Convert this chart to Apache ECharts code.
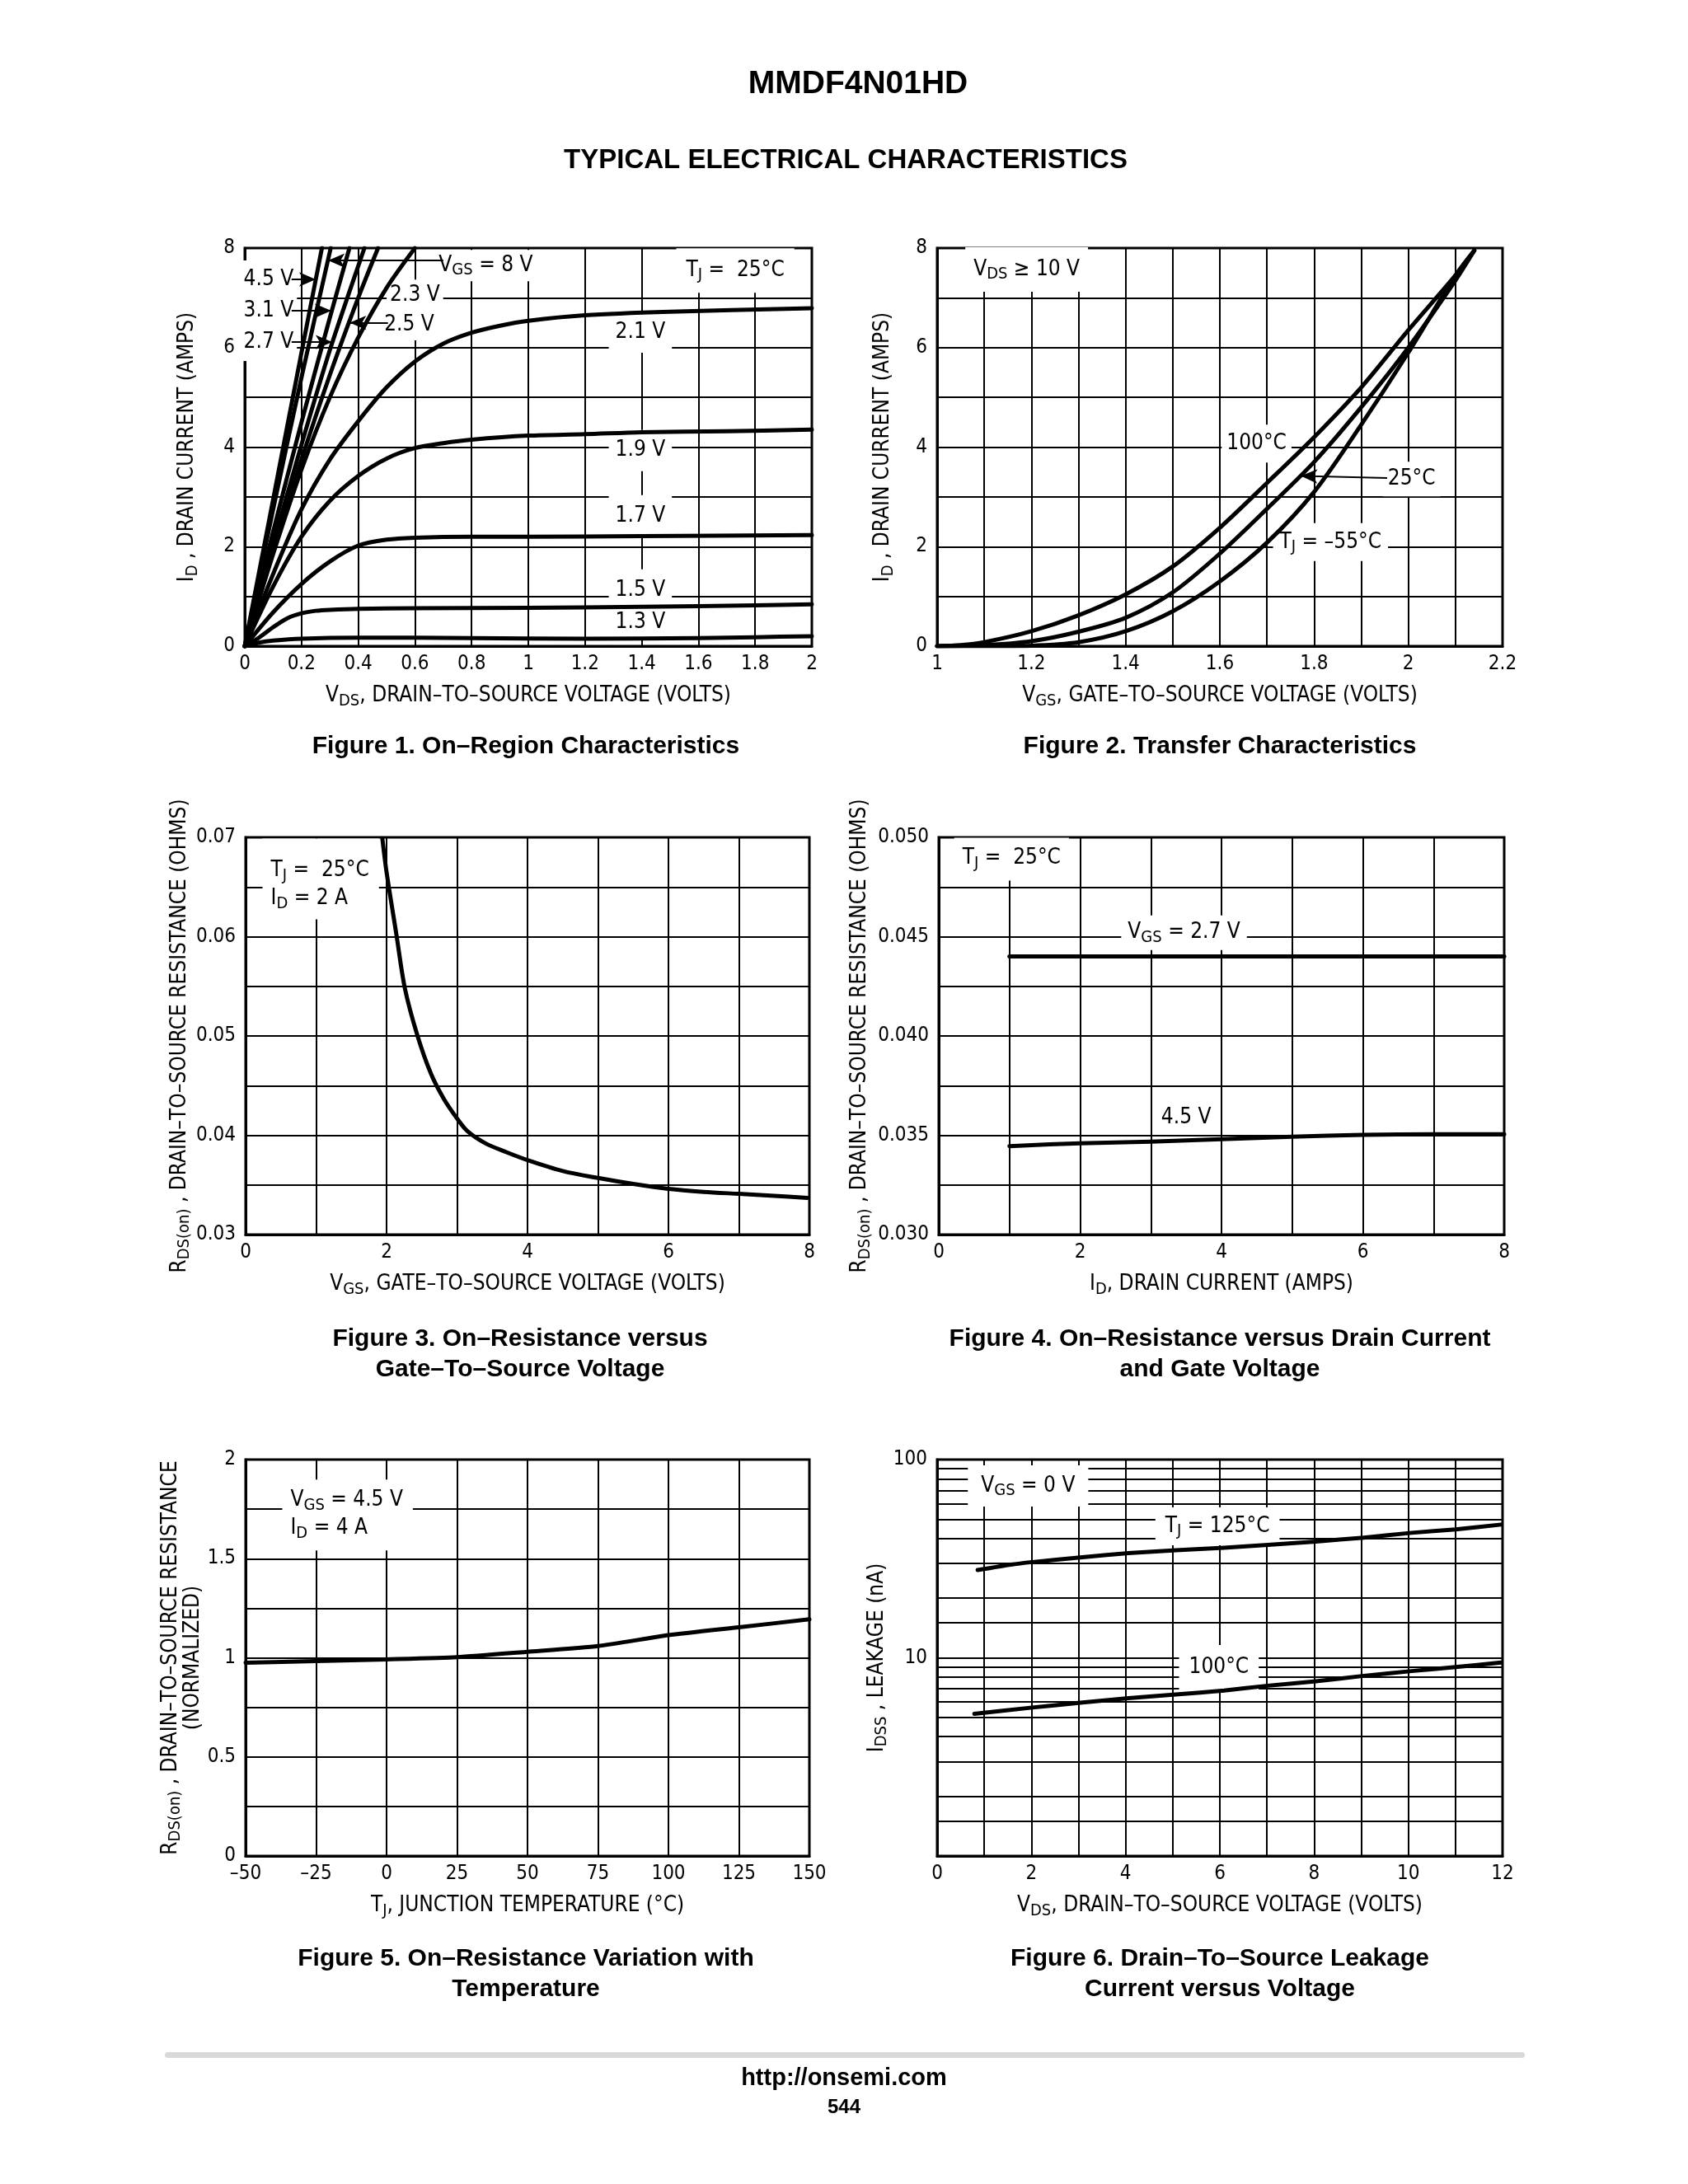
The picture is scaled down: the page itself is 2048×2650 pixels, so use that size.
<!DOCTYPE html>
<html><head><meta charset="utf-8">
<script src="https://cdn.jsdelivr.net/npm/echarts@6/dist/echarts.min.js"></script>
<style>html,body{margin:0;padding:0;background:#fff}#c{width:2048px;height:2650px}</style>
</head><body><div id="c"></div>
<script>
// ---------------- DATA ----------------
// Figure 1: On-region characteristics, [VDS (V), ID (A)]
const id_vgs45 = [[0,0],[0.1,2.95],[0.2,5.9],[0.272,8.0]];
const id_vgs8  = [[0,0],[0.1,2.75],[0.2,5.4],[0.303,8.0]];
const id_vgs31 = [[0,0],[0.1,2.3],[0.2,4.5],[0.3,6.6],[0.369,8.0]];
const id_vgs27 = [[0,0],[0.1,2.05],[0.2,4.05],[0.3,5.95],[0.422,8.0]];
const id_vgs25 = [[0,0],[0.1,1.9],[0.2,3.75],[0.3,5.45],[0.4,7.0],[0.47,8.0]];
const id_vgs23 = [[0,0],[0.1,1.85],[0.2,3.55],[0.3,5.0],[0.4,6.2],[0.5,7.2],[0.6,8.0]];
const id_vgs21 = [[0,0],[0.1,1.45],[0.2,2.75],[0.3,3.75],[0.4,4.52],[0.5,5.2],[0.6,5.72],[0.7,6.08],[0.8,6.3],[0.9,6.44],[1.0,6.54],[1.2,6.65],[1.5,6.72],[2.0,6.79]];
const id_vgs19 = [[0,0],[0.1,1.2],[0.2,2.2],[0.3,2.92],[0.4,3.42],[0.5,3.77],[0.6,3.98],[0.7,4.08],[0.8,4.15],[1.0,4.23],[1.2,4.26],[1.4,4.3],[1.7,4.32],[2.0,4.35]];
const id_vgs17 = [[0,0],[0.1,0.68],[0.2,1.25],[0.3,1.7],[0.4,2.02],[0.5,2.14],[0.6,2.18],[0.8,2.2],[1.0,2.2],[1.4,2.21],[2.0,2.23]];
const id_vgs15 = [[0,0],[0.05,0.17],[0.1,0.38],[0.15,0.56],[0.2,0.66],[0.25,0.71],[0.3,0.73],[0.4,0.75],[0.6,0.76],[1.0,0.77],[1.4,0.79],[1.8,0.82],[2.0,0.84]];
const id_vgs13 = [[0,0],[0.05,0.07],[0.1,0.11],[0.2,0.15],[0.4,0.17],[0.6,0.17],[0.8,0.16],[1.2,0.15],[1.6,0.16],[1.8,0.18],[2.0,0.2]];

// Figure 2: Transfer characteristics, [VGS (V), ID (A)]
const tr_100 = [[1,0],[1.05,0.02],[1.1,0.08],[1.2,0.3],[1.3,0.62],[1.4,1.04],[1.5,1.6],[1.6,2.38],[1.7,3.28],[1.8,4.2],[1.9,5.2],[2.0,6.35],[2.1,7.45],[2.14,7.95]];
const tr_25  = [[1,0],[1.1,0.02],[1.2,0.1],[1.3,0.29],[1.4,0.57],[1.5,1.08],[1.6,1.86],[1.7,2.76],[1.8,3.7],[1.9,4.8],[2.0,6.0],[2.1,7.35],[2.14,7.95]];
const tr_m55 = [[1,0],[1.1,0],[1.2,0.01],[1.3,0.08],[1.4,0.3],[1.5,0.7],[1.6,1.3],[1.7,2.08],[1.8,3.1],[1.9,4.45],[2.0,5.9],[2.1,7.45],[2.14,7.95]];

// Figure 3: RDS(on) vs VGS, [VGS (V), R (ohm)]
const rds_vgs = [[1.94,0.0699],[2.0,0.0665],[2.14,0.0602],[2.26,0.0548],[2.44,0.05],[2.63,0.0462],[2.81,0.0437],[3.0,0.0417],[3.15,0.0404],[3.4,0.0392],[3.7,0.0383],[4.0,0.0375],[4.5,0.0364],[5.0,0.0357],[5.5,0.0351],[6.0,0.0346],[6.5,0.0343],[7.0,0.0341],[7.5,0.0339],[7.97,0.0337]];

// Figure 4: RDS(on) vs ID, [ID (A), R (ohm)]
const rds_id_27 = [[1,0.044],[8,0.044]];
const rds_id_45 = [[1,0.03445],[2,0.0346],[3,0.03468],[4,0.0348],[5,0.03493],[6,0.03502],[7,0.03505],[8,0.03505]];

// Figure 5: normalized RDS(on) vs TJ, [TJ (°C), R norm]
const rds_tj = [[-50,0.975],[-25,0.983],[0,0.992],[25,1.003],[50,1.03],[75,1.059],[100,1.114],[125,1.154],[150,1.194]];

// Figure 6: IDSS leakage vs VDS, [VDS (V), I (nA)]
const idss_125 = [[0.86,27.7],[1.56,29.5],[2.02,30.4],[3.04,32.1],[4.06,33.7],[5.07,34.9],[6.09,35.9],[7.02,37.1],[8.04,38.6],[9.06,40.4],[10.07,42.7],[11.0,44.4],[11.97,47.0]];
const idss_100 = [[0.79,5.22],[2.02,5.61],[3.04,5.93],[4.06,6.25],[5.07,6.53],[6.09,6.84],[7.02,7.23],[8.04,7.62],[9.06,8.11],[10.07,8.57],[11.0,8.97],[11.97,9.47]];
const idss_gridValues = [1.5,2,3,4,5,6,7,8,9,15,20,30,40,50,60,70,80,90];

// ---------------- STYLE / LAYOUT ----------------
const NARROW = "'Liberation Sans Narrow','DejaVu Sans Condensed','Arial Narrow','Liberation Sans',sans-serif";
const BOLD = "'Liberation Sans',Arial,Helvetica,sans-serif";
const RICH = {
  n: {fontFamily: NARROW, fontSize: 26, color: '#000'},
  s: {fontFamily: NARROW, fontSize: 20, color: '#000', padding: [12, 0, 0, 0]}
};
const GRIDS = [
  {left: 297, top: 301, width: 688, height: 483},
  {left: 1137, top: 301, width: 686, height: 483},
  {left: 298, top: 1016, width: 684, height: 482},
  {left: 1139, top: 1016, width: 686, height: 482},
  {left: 298, top: 1771, width: 684, height: 481},
  {left: 1137, top: 1771, width: 686, height: 481}
];
const TICK = {color: '#000', fontFamily: NARROW, fontSize: 24};

function axis(gi, o) {
  const a = {
    gridIndex: gi, type: 'value',
    axisLine: {show: true, onZero: false, lineStyle: {color: '#000', width: 3}},
    axisTick: {show: false},
    splitLine: {show: true, lineStyle: {color: '#000', width: 2}},
    nameLocation: 'middle',
    nameTextStyle: {rich: RICH, fontFamily: NARROW, fontSize: 26, color: '#000', lineHeight: 27}
  };
  return Object.assign(a, o);
}
const lbl = (margin, formatter) => Object.assign({}, TICK, {margin: margin, formatter: formatter});
const evenInt = v => (Math.round(v) % 2 === 0 ? String(Math.round(v)) : '');

const xAxes = [
  axis(0, {min: 0, max: 2, interval: 0.2, name: '{n|V}{s|DS}{n|, DRAIN–TO–SOURCE VOLTAGE (VOLTS)}', nameGap: 47,
    axisLabel: lbl(10, v => String(Math.round(v * 10) / 10))}),
  axis(1, {min: 1, max: 2.2, interval: 0.1, name: '{n|V}{s|GS}{n|, GATE–TO–SOURCE VOLTAGE (VOLTS)}', nameGap: 47,
    axisLabel: lbl(10, v => { const r = Math.round(v * 10); return r % 2 === 0 ? String(r / 10) : ''; })}),
  axis(2, {min: 0, max: 8, interval: 1, name: '{n|V}{s|GS}{n|, GATE–TO–SOURCE VOLTAGE (VOLTS)}', nameGap: 47,
    axisLabel: lbl(10, evenInt)}),
  axis(3, {min: 0, max: 8, interval: 1, name: '{n|I}{s|D}{n|, DRAIN CURRENT (AMPS)}', nameGap: 47,
    axisLabel: lbl(10, evenInt)}),
  axis(4, {min: -50, max: 150, interval: 25, name: '{n|T}{s|J}{n|, JUNCTION TEMPERATURE (°C)}', nameGap: 47,
    axisLabel: lbl(10, v => (v < 0 ? '–' + (-v) : String(v)))}),
  axis(5, {min: 0, max: 12, interval: 1, name: '{n|V}{s|DS}{n|, DRAIN–TO–SOURCE VOLTAGE (VOLTS)}', nameGap: 47,
    axisLabel: lbl(10, evenInt)})
];
const yAxes = [
  axis(0, {min: 0, max: 8, interval: 1, name: '{n|I}{s|D}{n| , DRAIN CURRENT (AMPS)}', nameGap: 56,
    axisLabel: lbl(12, evenInt)}),
  axis(1, {min: 0, max: 8, interval: 1, name: '{n|I}{s|D}{n| , DRAIN CURRENT (AMPS)}', nameGap: 52,
    axisLabel: lbl(12, evenInt)}),
  axis(2, {min: 0.03, max: 0.07, interval: 0.005, name: '{n|R}{s|DS(on)}{n| , DRAIN–TO–SOURCE RESISTANCE (OHMS)}', nameGap: 66,
    axisLabel: lbl(12, v => { const r = Math.round(v * 1000); return r % 10 === 0 ? (r / 1000).toFixed(2) : ''; })}),
  axis(3, {min: 0.03, max: 0.05, interval: 0.0025, name: '{n|R}{s|DS(on)}{n| , DRAIN–TO–SOURCE RESISTANCE (OHMS)}', nameGap: 82,
    axisLabel: lbl(12, v => { const r = Math.round(v * 10000); return r % 50 === 0 ? (r / 10000).toFixed(3) : ''; })}),
  axis(4, {min: 0, max: 2, interval: 0.25, name: '{n|R}{s|DS(on)}{n| , DRAIN–TO–SOURCE RESISTANCE}\n{n|(NORMALIZED)}', nameGap: 39,
    axisLabel: lbl(12, v => { const r = Math.round(v * 100); return r % 50 === 0 ? String(r / 100) : ''; })}),
  axis(5, {type: 'log', logBase: 10, min: 1, max: 100, name: '{n|I}{s|DSS}{n| , LEAKAGE (nA)}', nameGap: 58,
    axisLabel: lbl(12, v => (Math.round(v) === 1 ? '' : String(Math.round(v))))})
];

// ---------------- SERIES ----------------
const series = [];
function curve(gi, data, extra) {
  series.push(Object.assign({
    type: 'line', xAxisIndex: gi, yAxisIndex: gi, data: data,
    symbol: 'none', showSymbol: false, smooth: 0.3, silent: true, z: 3,
    lineStyle: {color: '#000', width: 5, cap: 'round', join: 'round'}
  }, extra || {}));
}
function leaders(list) {
  return {
    silent: true, z: 5, symbol: ['none', 'arrow'], symbolSize: [13, 20],
    label: {show: false}, lineStyle: {color: '#000', width: 2, type: 'solid'},
    itemStyle: {color: '#000'},
    emphasis: {disabled: true},
    data: list.map(l => [{coord: l[0]}, {coord: l[1]}])
  };
}
function annot(gi, items) {
  series.push({
    type: 'scatter', xAxisIndex: gi, yAxisIndex: gi, symbol: 'circle', symbolSize: 1, silent: true, z: 2,
    itemStyle: {color: 'rgba(255,255,255,0)', opacity: 1},
    label: {show: true, position: 'inside', color: '#000', opacity: 1, fontFamily: NARROW, fontSize: 26,
      backgroundColor: '#fff', rich: RICH, lineHeight: 34},
    emphasis: {disabled: true},
    data: items.map(it => ({
      value: it.v,
      label: {formatter: it.t, padding: it.pad || [4, 6], align: it.align || 'center'}
    }))
  });
}

// Fig 1
curve(0, id_vgs45, {markLine: leaders([
  [[0.70, 7.75], [0.294, 7.75]],
  [[0.165, 7.37], [0.25, 7.37]],
  [[0.165, 6.74], [0.305, 6.74]],
  [[0.165, 6.11], [0.308, 6.11]],
  [[0.505, 6.5], [0.37, 6.5]]
])});
[id_vgs8, id_vgs31, id_vgs27, id_vgs25, id_vgs23, id_vgs21, id_vgs19, id_vgs17, id_vgs15, id_vgs13].forEach(d => curve(0, d));
annot(0, [
  {v: [0.85, 7.65], t: '{n|V}{s|GS}{n| = 8 V}', pad: [2, 6, 2, 6]},
  {v: [1.73, 7.55], t: '{n|T}{s|J}{n| =  25°C}', pad: [10, 12, 10, 12]},
  {v: [0.084, 7.37], t: '{n|4.5 V}', pad: [6, 4, 6, 4]},
  {v: [0.084, 6.74], t: '{n|3.1 V}', pad: [6, 4, 6, 4]},
  {v: [0.084, 6.11], t: '{n|2.7 V}', pad: [6, 4, 6, 4]},
  {v: [0.6, 7.05], t: '{n|2.3 V}', pad: [2, 4, 2, 4]},
  {v: [0.58, 6.46], t: '{n|2.5 V}', pad: [2, 4, 2, 4]},
  {v: [1.395, 6.31], t: '{n|2.1 V}', pad: [8, 8, 8, 8]},
  {v: [1.395, 3.93], t: '{n|1.9 V}', pad: [8, 8, 8, 8]},
  {v: [1.395, 2.62], t: '{n|1.7 V}', pad: [8, 8, 8, 8]},
  {v: [1.395, 1.13], t: '{n|1.5 V}', pad: [8, 8, 8, 8]},
  {v: [1.395, 0.48], t: '{n|1.3 V}', pad: [4, 8, 4, 8]}
]);

// Fig 2
curve(1, tr_25, {markLine: leaders([[[1.955, 3.38], [1.772, 3.42]]])});
curve(1, tr_100);
curve(1, tr_m55);
annot(1, [
  {v: [1.19, 7.57], t: '{n|V}{s|DS}{n| ≥ 10 V}', pad: [10, 10, 10, 10]},
  {v: [1.678, 4.07], t: '{n|100°C}', pad: [6, 6, 6, 6]},
  {v: [2.007, 3.36], t: '{n|25°C}', pad: [4, 6, 4, 6]},
  {v: [1.835, 2.09], t: '{n|T}{s|J}{n| = –55°C}', pad: [6, 8, 6, 8]}
]);

// Fig 3
curve(2, rds_vgs);
annot(2, [
  {v: [0.24, 0.0658], t: '{n|T}{s|J}{n| =  25°C}\n{n|I}{s|D}{n| = 2 A}', pad: [22, 12, 8, 10], align: 'left'}
]);

// Fig 4
curve(3, rds_id_27, {smooth: false});
curve(3, rds_id_45);
annot(3, [
  {v: [1.03, 0.0489], t: '{n|T}{s|J}{n| =  25°C}', pad: [8, 10, 10, 10]},
  {v: [3.47, 0.0452], t: '{n|V}{s|GS}{n| = 2.7 V}', pad: [4, 8, 4, 8]},
  {v: [3.5, 0.0359], t: '{n|4.5 V}', pad: [2, 4, 2, 4]}
]);

// Fig 5
curve(4, rds_tj, {smooth: 0.2});
annot(4, [
  {v: [-37, 1.72], t: '{n|V}{s|GS}{n| = 4.5 V}\n{n|I}{s|D}{n| = 4 A}', pad: [8, 12, 10, 10], align: 'left'}
]);

// Fig 6 (extra log gridlines drawn beneath labels)
series.push({
  type: 'scatter', xAxisIndex: 5, yAxisIndex: 5, data: [], z: 1, silent: true,
  markLine: {silent: true, z: 1, zlevel: 0, symbol: ['none', 'none'], label: {show: false},
    lineStyle: {color: '#000', width: 2, type: 'solid'}, emphasis: {disabled: true},
    data: idss_gridValues.map(v => ({yAxis: v}))}
});
curve(5, idss_125, {smooth: 0.2});
curve(5, idss_100, {smooth: 0.2});
annot(5, [
  {v: [1.93, 73.6], t: '{n|V}{s|GS}{n| = 0 V}', pad: [8, 16, 8, 16]},
  {v: [5.95, 46], t: '{n|T}{s|J}{n| = 125°C}', pad: [6, 12, 6, 12]},
  {v: [5.98, 8.96], t: '{n|100°C}', pad: [10, 12, 10, 12]}
]);

// ---------------- TEXT ----------------
function txt(x, y, text, font, lh) {
  return {type: 'text', x: x, y: y, silent: true, z: 10,
    style: {text: text, font: font, fill: '#000', align: 'center', verticalAlign: 'middle', lineHeight: lh || 37}};
}
const CAP = 'bold 30px ' + BOLD;
const graphic = [
  txt(1041, 102, 'MMDF4N01HD', 'bold 39px ' + BOLD),
  txt(1026, 195, 'TYPICAL ELECTRICAL CHARACTERISTICS', 'bold 33px ' + BOLD),
  txt(638, 906, 'Figure 1. On–Region Characteristics', CAP),
  txt(1480, 906, 'Figure 2. Transfer Characteristics', CAP),
  txt(631, 1643, 'Figure 3. On–Resistance versus\nGate–To–Source Voltage', CAP),
  txt(1480, 1643, 'Figure 4. On–Resistance versus Drain Current\nand Gate Voltage', CAP),
  txt(638, 2395, 'Figure 5. On–Resistance Variation with\nTemperature', CAP),
  txt(1480, 2395, 'Figure 6. Drain–To–Source Leakage\nCurrent versus Voltage', CAP),
  {type: 'rect', silent: true, shape: {x: 200, y: 2490, width: 1650, height: 7, r: 3.5}, style: {fill: '#d9d9d9'}},
  txt(1024, 2522, 'http://onsemi.com', 'bold 29px ' + BOLD),
  txt(1024, 2557, '544', 'bold 24px ' + BOLD)
];

const chart = echarts.init(document.getElementById('c'), null, {renderer: 'canvas'});
chart.setOption({
  animation: false,
  backgroundColor: '#fff',
  grid: GRIDS.map(g => Object.assign({show: true, borderColor: '#000', borderWidth: 3, backgroundColor: '#fff', containLabel: false}, g)),
  xAxis: xAxes,
  yAxis: yAxes,
  series: series,
  graphic: graphic
});
</script>
</body></html>
